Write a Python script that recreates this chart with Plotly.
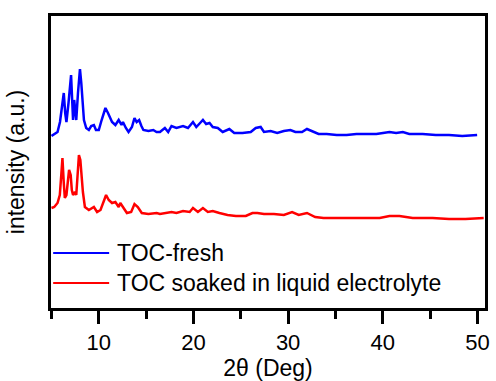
import plotly.graph_objects as go

# ---- data (2θ in degrees, intensity in arbitrary units) ----
fresh_x = [5.0, 5.64, 5.9, 6.1, 6.3, 6.45, 6.58, 6.8, 7.07, 7.2, 7.28, 7.4, 7.5, 7.62, 7.8, 8.01,
           8.15, 8.25, 8.43, 8.67, 8.95, 9.2, 9.48, 9.7, 10.0, 10.3, 10.7, 10.97, 11.2, 11.4, 11.75,
           12.1, 12.4, 12.55, 12.86, 13.14, 13.5, 13.77, 14.0, 14.26, 14.5, 14.71, 15.24, 15.76,
           16.1, 16.46, 16.98, 17.33, 17.68, 18.2, 18.9, 19.42, 19.95, 20.3, 20.7, 21.0, 21.34,
           21.7, 22.04, 22.57, 23.09, 23.79, 24.31, 25.18, 26.05, 26.58, 27.1, 27.45, 28.15,
           28.85, 29.55, 30.24, 30.77, 31.47, 31.99, 32.69, 33.22, 34.08, 35.13, 36.18, 37.22,
           38.27, 39.32, 40.02, 40.71, 41.41, 42.12, 42.8, 44.21, 45.6, 47.0, 48.4, 49.97]
fresh_y = [172, 176, 186, 200, 215, 195, 186, 205, 233, 205, 188, 208, 195, 188, 215, 239,
           225, 208, 188, 180, 178, 182, 183, 178, 178, 188, 200, 195, 190, 186, 183,
           188, 183, 186, 180, 176, 181, 190, 186, 188, 182, 178, 177, 178,
           176, 176, 180, 176, 182, 180, 182, 180, 186, 181, 185, 188, 184,
           185, 181, 180, 176, 179, 175, 175, 176, 180, 181, 176, 177,
           175, 177, 178, 176, 176, 179, 176, 174, 174, 173, 173, 174,
           174, 174, 175, 176, 175, 176, 174, 174, 173, 173, 172, 173]

soaked_x = [5.0, 5.29, 5.64, 5.88, 6.05, 6.16, 6.3, 6.41, 6.58, 6.75, 6.86, 7.03, 7.15, 7.28,
            7.49, 7.62, 7.75, 7.9, 8.05, 8.15, 8.32, 8.53, 8.95, 9.48, 9.82, 10.18, 10.52,
            10.77, 11.05, 11.4, 11.75, 12.1, 12.27, 12.62, 12.97, 13.42, 13.77, 14.12, 14.54,
            15.24, 15.76, 16.11, 16.46, 17.15, 17.68, 18.2, 18.9, 19.6, 19.95, 20.47, 21.0,
            21.52, 22.04, 22.74, 23.6, 24.48, 25.53, 26.23, 26.75, 27.45, 28.5, 29.55, 30.42,
            31.12, 31.99, 32.86, 33.74, 35.48, 37.22, 38.27, 39.67, 40.71, 41.76, 43.16,
            45.26, 47.0, 48.74, 50.66]
soaked_y = [100, 101, 105, 113, 135, 150, 125, 110, 113, 130, 138, 133, 118, 113,
            116, 113, 130, 153, 148, 136, 116, 101, 98, 101, 96, 98, 108,
            113, 108, 105, 106, 101, 105, 100, 95, 96, 104, 101, 95,
            94, 95, 95, 94, 95, 96, 95, 97, 96, 100, 96, 100,
            96, 97, 95, 93, 92, 92, 95, 95, 94, 94, 93, 96,
            93, 95, 91, 90, 90, 90, 90, 90, 92, 92, 90,
            90, 89, 89, 90]

series_names = ["TOC-fresh", "TOC soaked in liquid electrolyte"]
series_colors = ["#0000FF", "#FF0000"]
x_ticks = [10, 20, 30, 40, 50]

FONT = "Liberation Sans, Arial, sans-serif"

fig = go.Figure()
fig.add_trace(go.Scatter(x=fresh_x, y=fresh_y, mode="lines", name=series_names[0],
                         line=dict(color=series_colors[0], width=2.5), showlegend=False))
fig.add_trace(go.Scatter(x=soaked_x, y=soaked_y, mode="lines", name=series_names[1],
                         line=dict(color=series_colors[1], width=2.5), showlegend=False))

# hand-drawn legend (long line samples like the original)
legend_rows = [0.188, 0.086]
for name, color, yy in zip(series_names, series_colors, legend_rows):
    fig.add_shape(type="line", xref="paper", yref="paper", x0=0.005, x1=0.134, y0=yy, y1=yy,
                  line=dict(color=color, width=2))
    fig.add_annotation(xref="paper", yref="paper", x=0.148, y=yy, text=name, showarrow=False,
                       xanchor="left", yanchor="middle", font=dict(family=FONT, size=23, color="black"))

fig.update_layout(
    width=496, height=381,
    margin=dict(l=51, r=6, t=16, b=73),
    paper_bgcolor="white", plot_bgcolor="white",
    font=dict(family=FONT, color="black"),
)
fig.update_xaxes(
    range=[4.95, 50.8], tickvals=x_ticks, ticks="outside", ticklen=13, tickwidth=2.5,
    tickcolor="black", tickfont=dict(size=22, family=FONT),
    minor=dict(dtick=5, tick0=5, ticks="outside", ticklen=8, tickwidth=2.5, tickcolor="black"),
    showline=True, linecolor="black", linewidth=2.5, mirror=True, showgrid=False, zeroline=False,
    title=dict(text="2θ (Deg)", font=dict(size=23, family=FONT), standoff=2),
)
fig.update_yaxes(
    range=[0, 292], showticklabels=False, ticks="",
    showline=True, linecolor="black", linewidth=2.5, mirror=True, showgrid=False, zeroline=False,
    title=dict(text="intensity (a.u.)", font=dict(size=23, family=FONT), standoff=18),
)

fig.write_html("out.html")
